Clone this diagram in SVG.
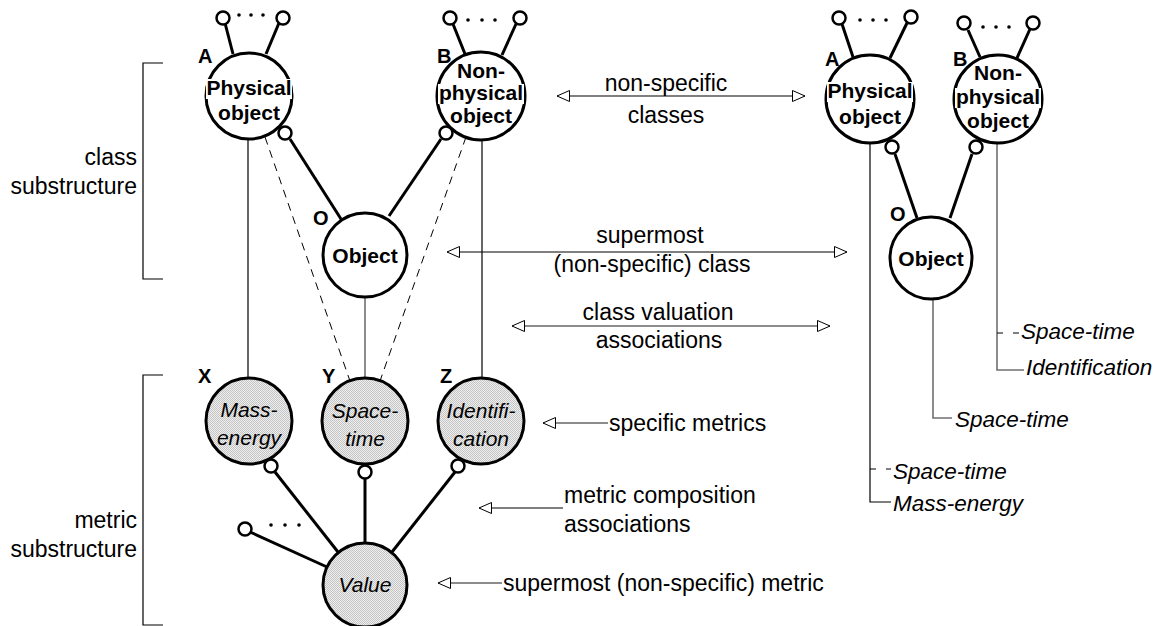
<svg xmlns="http://www.w3.org/2000/svg" width="1161" height="626" viewBox="0 0 1161 626">
<defs>
<pattern id="dots" width="2" height="2" patternUnits="userSpaceOnUse"><rect width="2" height="2" fill="#efefef"/><rect width="1" height="1" fill="#c4c4c4"/><rect x="1" y="1" width="1" height="1" fill="#c4c4c4"/></pattern>
<marker id="tri" markerWidth="14" markerHeight="12" refX="13" refY="6" orient="auto-start-reverse" markerUnits="userSpaceOnUse"><path d="M0.5,0.5 L13,6 L0.5,11.5 Z" fill="#fff" stroke="#000" stroke-width="1"/></marker>
<style>
.node{fill:#fff;stroke:#000;stroke-width:3}
.metric{fill:url(#dots);stroke:#000;stroke-width:3}
.port{fill:#fff;stroke:#000;stroke-width:2.5}
.bold{stroke:#000;stroke-width:3;fill:none}
.thin{stroke:#000;stroke-width:1.2;fill:none}
.gray{stroke:#707070;stroke-width:1.6;fill:none}
.dash{stroke:#000;stroke-width:1;stroke-dasharray:8 6;fill:none}
.tick{stroke:#000;stroke-width:1;stroke-dasharray:6 10;fill:none}
.arr{stroke:#000;stroke-width:1.2;fill:none}
.arrg{stroke:#666;stroke-width:1.6;fill:none}
.dot{fill:#000}
.nt{font-family:"Liberation Sans",Arial,sans-serif;font-weight:bold;font-size:21px;text-anchor:middle;fill:#000}
.mt{font-family:"Liberation Sans",Arial,sans-serif;font-style:italic;font-size:21px;text-anchor:middle;fill:#000}
.lb{font-family:"Liberation Sans",Arial,sans-serif;font-weight:bold;font-size:20px;fill:#000}
.tx{font-family:"Liberation Sans",Arial,sans-serif;font-size:23px;fill:#000}
.txc{font-family:"Liberation Sans",Arial,sans-serif;font-size:23px;fill:#000;text-anchor:middle}
.txr{font-family:"Liberation Sans",Arial,sans-serif;font-size:23px;fill:#000;text-anchor:end}
.it{font-family:"Liberation Sans",Arial,sans-serif;font-style:italic;font-size:22.5px;fill:#000}
</style>
</defs>
<rect width="1161" height="626" fill="#fff"/>

<g id="connectors">
  <!-- left class structure -->
  <line class="bold" x1="290" y1="139" x2="341" y2="219"/>
  <line class="bold" x1="441" y1="139" x2="389" y2="216"/>
  <line class="gray" x1="365" y1="297" x2="365" y2="379"/>
  <line class="thin" x1="248" y1="139" x2="248" y2="379"/>
  <line class="thin" x1="482" y1="140" x2="482" y2="379"/>
  <line class="dash" x1="265" y1="137" x2="350" y2="381"/>
  <line class="dash" x1="466" y1="137" x2="380" y2="381"/>
  <!-- metric composition -->
  <line class="bold" x1="275" y1="472" x2="338" y2="552"/>
  <line class="bold" x1="365" y1="478" x2="365" y2="543"/>
  <line class="bold" x1="455" y1="472" x2="392" y2="552"/>
  <line class="bold" x1="250" y1="532" x2="327" y2="567"/>
  <!-- right class structure -->
  <line class="bold" x1="895" y1="154" x2="917" y2="218"/>
  <line class="bold" x1="972" y1="154" x2="950" y2="218"/>
  <polyline class="thin" points="870,143 870,502 891,502"/>
  <line class="tick" x1="870" y1="469" x2="891" y2="469"/>
  <polyline class="gray" points="997,142 997,370 1024,370"/>
  <line class="tick" x1="997" y1="333" x2="1020" y2="333"/>
  <polyline class="gray" points="933,300 933,418 952,418"/>
  <!-- annotation arrows -->
  <line class="arr" x1="557" y1="96" x2="805" y2="96" marker-start="url(#tri)" marker-end="url(#tri)"/>
  <line class="arr" x1="447" y1="252" x2="847" y2="252" marker-start="url(#tri)" marker-end="url(#tri)"/>
  <line class="arrg" x1="512" y1="326" x2="830" y2="326" marker-start="url(#tri)" marker-end="url(#tri)"/>
  <line class="arrg" x1="543" y1="423" x2="608" y2="423" marker-start="url(#tri)"/>
  <line class="arr" x1="479" y1="508" x2="563" y2="508" marker-start="url(#tri)"/>
  <line class="arrg" x1="438" y1="583" x2="502" y2="583" marker-start="url(#tri)"/>
  <!-- brackets -->
  <polyline class="thin" points="163,63 143,63 143,279 163,279"/>
  <polyline class="thin" points="163,375 143,375 143,625 163,625"/>
</g>

<g id="labels">
  <text class="txr" x="137" y="165">class</text>
  <text class="txr" x="137" y="194">substructure</text>
  <text class="txr" x="137" y="528">metric</text>
  <text class="txr" x="137" y="557">substructure</text>
  <text class="txc" x="666" y="91">non-specific</text>
  <text class="txc" x="666" y="123">classes</text>
  <text class="txc" x="650" y="243">supermost</text>
  <text class="txc" x="652" y="272">(non-specific) class</text>
  <text class="txc" x="658" y="320">class valuation</text>
  <text class="txc" x="659" y="348">associations</text>
  <text class="tx" x="609" y="431">specific metrics</text>
  <text class="tx" x="564" y="503">metric composition</text>
  <text class="tx" x="564" y="532">associations</text>
  <text class="tx" x="503" y="591">supermost (non-specific) metric</text>
  <text class="it" x="1021" y="339">Space-time</text>
  <text class="it" x="1026" y="375">Identification</text>
  <text class="it" x="955" y="427">Space-time</text>
  <text class="it" x="893" y="479">Space-time</text>
  <text class="it" x="893" y="511">Mass-energy</text>
</g>

<g id="node-A">
  <line class="bold" x1="225" y1="23" x2="233" y2="54"/>
  <line class="bold" x1="279" y1="23" x2="266" y2="54"/>
  <circle class="port" cx="223" cy="18" r="6.5"/>
  <circle class="port" cx="283" cy="18" r="6.5"/>
  <circle class="dot" cx="239" cy="15" r="1.8"/><circle class="dot" cx="251" cy="15" r="1.8"/><circle class="dot" cx="263" cy="15" r="1.8"/>
  <circle class="node" cx="249" cy="96" r="43"/>
  <rect x="206" y="79" width="86" height="20" fill="#fff"/>
  <text class="nt" x="249" y="95">Physical</text>
  <text class="nt" x="249" y="120">object</text>
  <circle class="port" cx="285" cy="133" r="6.5"/>
  <text class="lb" x="198" y="63">A</text>
</g>

<g id="node-B">
  <line class="bold" x1="453" y1="24" x2="465" y2="54"/>
  <line class="bold" x1="516" y1="24" x2="502" y2="55"/>
  <circle class="port" cx="450" cy="18" r="6.5"/>
  <circle class="port" cx="520" cy="18" r="6.5"/>
  <circle class="dot" cx="468" cy="20" r="1.8"/><circle class="dot" cx="482" cy="20" r="1.8"/><circle class="dot" cx="495" cy="20" r="1.8"/>
  <circle class="node" cx="481" cy="96" r="44"/>
  <rect x="438" y="84" width="86" height="20" fill="#fff"/>
  <text class="nt" x="481" y="78">Non-</text>
  <text class="nt" x="481" y="100">physical</text>
  <text class="nt" x="481" y="123">object</text>
  <circle class="port" cx="446" cy="133" r="6.5"/>
  <text class="lb" x="437" y="63">B</text>
</g>

<g id="node-O">
  <circle class="node" cx="365" cy="255" r="42"/>
  <text class="nt" x="365" y="263">Object</text>
  <text class="lb" x="313" y="225">O</text>
</g>

<g id="node-X">
  <circle class="metric" cx="249" cy="421" r="43"/>
  <text class="mt" x="249" y="417">Mass-</text>
  <text class="mt" x="249" y="445">energy</text>
  <circle class="port" cx="271" cy="466" r="6.5"/>
  <text class="lb" x="198" y="383">X</text>
</g>

<g id="node-Y">
  <circle class="metric" cx="365" cy="421" r="43"/>
  <text class="mt" x="365" y="418">Space-</text>
  <text class="mt" x="365" y="446">time</text>
  <circle class="port" cx="365" cy="472" r="6.5"/>
  <text class="lb" x="322" y="383">Y</text>
</g>

<g id="node-Z">
  <circle class="metric" cx="481" cy="421" r="43"/>
  <text class="mt" x="481" y="418">Identifi-</text>
  <text class="mt" x="481" y="446">cation</text>
  <circle class="port" cx="458" cy="466" r="6.5"/>
  <text class="lb" x="440" y="383">Z</text>
</g>

<g id="node-Value">
  <circle class="port" cx="245" cy="529" r="6.5"/>
  <circle class="dot" cx="271" cy="525" r="1.8"/><circle class="dot" cx="285" cy="525" r="1.8"/><circle class="dot" cx="299" cy="525" r="1.8"/>
  <circle class="metric" cx="365" cy="585" r="42"/>
  <text class="mt" x="365" y="592">Value</text>
</g>

<g id="node-A2">
  <line class="bold" x1="842" y1="24" x2="853" y2="57"/>
  <line class="bold" x1="907" y1="23" x2="890" y2="58"/>
  <circle class="port" cx="839" cy="18" r="6.5"/>
  <circle class="port" cx="911" cy="17" r="6.5"/>
  <circle class="dot" cx="860" cy="20" r="1.8"/><circle class="dot" cx="873" cy="20" r="1.8"/><circle class="dot" cx="886" cy="20" r="1.8"/>
  <circle class="node" cx="870" cy="99" r="44"/>
  <rect x="827" y="82" width="86" height="20" fill="#fff"/>
  <text class="nt" x="870" y="98">Physical</text>
  <text class="nt" x="870" y="124">object</text>
  <circle class="port" cx="892" cy="147" r="6.5"/>
  <text class="lb" x="825" y="66">A</text>
</g>

<g id="node-B2">
  <line class="bold" x1="968" y1="30" x2="980" y2="57"/>
  <line class="bold" x1="1030" y1="29" x2="1017" y2="58"/>
  <circle class="port" cx="964" cy="23" r="6.5"/>
  <circle class="port" cx="1033" cy="23" r="6.5"/>
  <circle class="dot" cx="983" cy="27" r="1.8"/><circle class="dot" cx="996" cy="27" r="1.8"/><circle class="dot" cx="1009" cy="27" r="1.8"/>
  <circle class="node" cx="998" cy="99" r="44"/>
  <rect x="955" y="88" width="86" height="20" fill="#fff"/>
  <text class="nt" x="998" y="80">Non-</text>
  <text class="nt" x="998" y="104">physical</text>
  <text class="nt" x="998" y="128">object</text>
  <circle class="port" cx="976" cy="147" r="6.5"/>
  <text class="lb" x="953" y="66">B</text>
</g>

<g id="node-O2">
  <circle class="node" cx="931" cy="258" r="41"/>
  <text class="nt" x="931" y="266">Object</text>
  <text class="lb" x="890" y="221">O</text>
</g>
</svg>
